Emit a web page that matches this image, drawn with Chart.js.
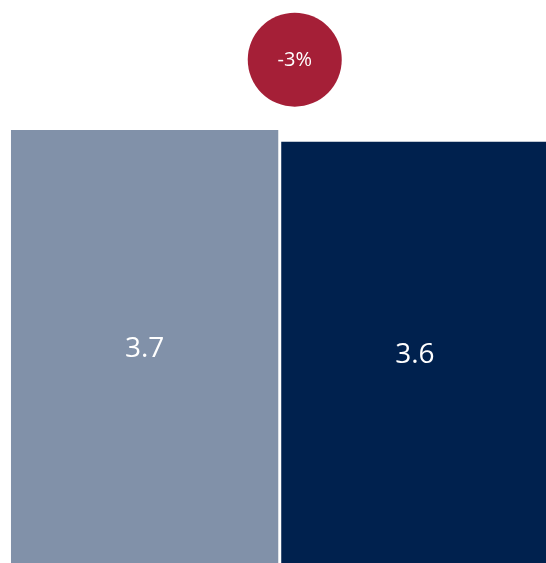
<!DOCTYPE html>
<html>
<head>
<meta charset="utf-8">
<script src="https://cdn.jsdelivr.net/npm/chart.js@4"></script>
<style>
  html, body { margin: 0; padding: 0; background: #fff; overflow: hidden; }
  #wrap { width: 550px; height: 563px; }
</style>
</head>
<body>
<div id="wrap"><canvas id="chart" width="550" height="563"></canvas></div>
<script>
// Data
const categories = ['Before', 'After'];
const values = [3.7, 3.6];
const barColors = ['#8191A9', '#00214E'];
const changeLabel = '-3%';

// Draws the value labels inside the bars and the change bubble
const labelPlugin = {
  id: 'labels',
  afterDatasetsDraw(chart) {
    const ctx = chart.ctx;
    const meta = chart.getDatasetMeta(0);
    ctx.save();
    ctx.fillStyle = '#ffffff';
    ctx.font = '28px "Open Sans", sans-serif';
    ctx.textAlign = 'center';
    ctx.textBaseline = 'middle';
    meta.data.forEach((bar, i) => {
      const mid = (bar.y + bar.base) / 2;
      ctx.fillText(values[i].toFixed(1), bar.x, mid + 3);
    });

    // change bubble between the bars, near the top
    const xs = chart.scales.x;
    const ys = chart.scales.y;
    const cx = xs.getPixelForValue(0.5) + 15;
    const cy = ys.getPixelForValue(4.30);
    ctx.beginPath();
    ctx.arc(cx, cy, 47, 0, Math.PI * 2);
    ctx.fillStyle = '#A51F37';
    ctx.fill();
    ctx.fillStyle = '#ffffff';
    ctx.font = '20px "Open Sans", sans-serif';
    ctx.fillText(changeLabel, cx, cy + 1);
    ctx.restore();
  }
};

new Chart(document.getElementById('chart'), {
  type: 'bar',
  data: {
    labels: categories,
    datasets: [{
      data: values,
      backgroundColor: barColors,
      borderWidth: 0,
      barPercentage: 0.989,
      categoryPercentage: 1.0,
    }]
  },
  options: {
    responsive: false,
    animation: false,
    layout: { padding: { left: 9.5, right: 0, top: 0, bottom: 0 } },
    plugins: {
      legend: { display: false },
      tooltip: { enabled: false }
    },
    scales: {
      x: { display: false },
      y: { display: false, min: 0, max: 4.81 }
    }
  },
  plugins: [labelPlugin]
});
</script>
</body>
</html>
